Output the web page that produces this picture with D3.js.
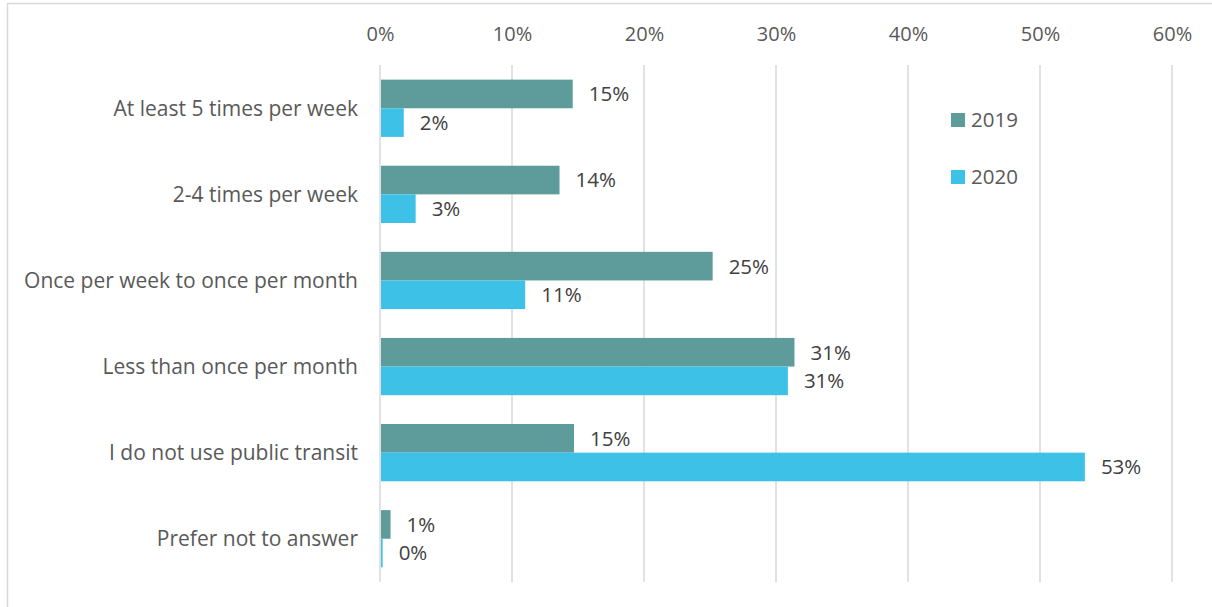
<!DOCTYPE html>
<html>
<head>
<meta charset="utf-8">
<script src="https://cdn.jsdelivr.net/npm/d3@7"></script>
<style>
  html, body { margin: 0; padding: 0; background: #fff; }
  svg { display: block; }
  text { font-family: "Open Sans", "Liberation Sans", sans-serif; fill: #595959; }
</style>
</head>
<body>
<svg id="chart" width="1212" height="607"></svg>
<script>
// Public transit use frequency, survey years 2019 and 2020
const categories = [
  "At least 5 times per week",
  "2-4 times per week",
  "Once per week to once per month",
  "Less than once per month",
  "I do not use public transit",
  "Prefer not to answer"
];
const seriesNames = ["2019", "2020"];
const values2019 = [0.146, 0.136, 0.252, 0.314, 0.147, 0.008];
const values2020 = [0.018, 0.027, 0.110, 0.309, 0.534, 0.002];
const tickValues = [0, 0.1, 0.2, 0.3, 0.4, 0.5, 0.6];
const colors = ["#5E9B9B", "#3DC1E6"];

const svg = d3.select("#chart");

// outer chart frame
svg.append("rect")
  .attr("x", 7.5).attr("y", 3.5)
  .attr("width", 1220).attr("height", 620)
  .attr("fill", "none").attr("stroke", "#d9d9d9").attr("stroke-width", 1.5);

const plot = { left: 380, right: 1172, top: 65, bottom: 582 };

const x = d3.scaleLinear().domain([0, 0.6]).range([plot.left, plot.right]);
const y = d3.scaleBand().domain(categories).range([plot.top, plot.bottom]).paddingInner(0.335).paddingOuter(0.17);
const ySub = d3.scaleBand().domain(seriesNames).range([0, y.bandwidth()]);

// gridlines
svg.append("g")
  .selectAll("line")
  .data(tickValues)
  .join("line")
  .attr("x1", d => x(d)).attr("x2", d => x(d))
  .attr("y1", plot.top).attr("y2", plot.bottom)
  .attr("stroke", "#d9d9d9").attr("stroke-width", 1.5);

// top axis labels
const xAxis = d3.axisTop(x).tickValues(tickValues).tickFormat(d3.format(".0%")).tickSize(0).tickPadding(0);
const gx = svg.append("g").attr("transform", "translate(0,41)").call(xAxis);
gx.select(".domain").remove();
gx.selectAll("text")
  .style("font-family", "\"Open Sans\", sans-serif")
  .attr("font-size", 20).attr("fill", "#595959").attr("dy", 0);

// category labels
const gy = svg.append("g").attr("transform", `translate(${plot.left - 22},0)`)
  .call(d3.axisLeft(y).tickSize(0).tickPadding(0));
gy.select(".domain").remove();
gy.selectAll("text")
  .style("font-family", "\"Open Sans\", sans-serif")
  .attr("font-size", 21).attr("fill", "#595959").attr("dy", "0.36em");

const rows = categories.map((c, i) => ({ cat: c, vals: [values2019[i], values2020[i]] }));
const fmt = d3.format(".0%");

const groups = svg.append("g").selectAll("g")
  .data(rows).join("g")
  .attr("transform", d => `translate(0,${y(d.cat)})`);

groups.selectAll("rect")
  .data(d => d.vals.map((v, j) => ({ v, s: seriesNames[j], j })))
  .join("rect")
  .attr("x", x(0) + 1)
  .attr("y", d => ySub(d.s))
  .attr("width", d => Math.max(0, x(d.v) - x(0) - 1) || 1.5)
  .attr("height", ySub.bandwidth())
  .attr("fill", d => colors[d.j]);

groups.selectAll("text.val")
  .data(d => d.vals.map((v, j) => ({ v, s: seriesNames[j] })))
  .join("text")
  .attr("class", "val")
  .attr("x", d => x(d.v) + 16)
  .attr("y", d => ySub(d.s) + ySub.bandwidth() / 2)
  .attr("dy", "0.36em")
  .attr("font-size", 20.5)
  .style("fill", "#404040")
  .text(d => fmt(d.v));

// legend
const legend = svg.append("g").attr("transform", "translate(951,113)");
const li = legend.selectAll("g").data(seriesNames).join("g")
  .attr("transform", (d, i) => `translate(0,${i * 57})`);
li.append("rect").attr("width", 14).attr("height", 14).attr("fill", (d, i) => colors[i]);
li.append("text").attr("x", 20).attr("y", 7).attr("dy", "0.36em")
  .attr("font-size", 20.5).text(d => d);
</script>
</body>
</html>
